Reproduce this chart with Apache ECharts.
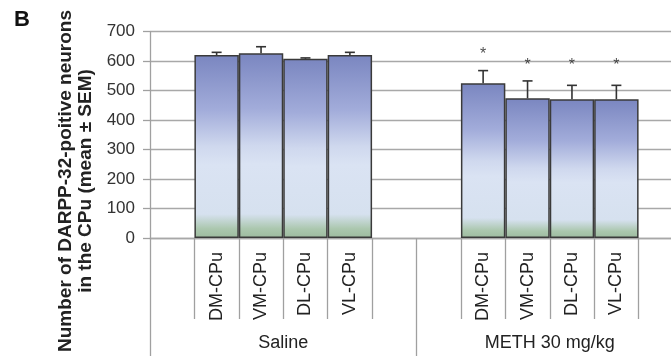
<!DOCTYPE html>
<html>
<head>
<meta charset="utf-8">
<script src="https://cdn.jsdelivr.net/npm/echarts@6/dist/echarts.min.js"></script>
<style>html,body{margin:0;padding:0;background:#fff}#c{width:671px;height:360px}</style>
</head>
<body>
<div id="c"></div>
<script>
const regions = ['DM-CPu', 'VM-CPu', 'DL-CPu', 'VL-CPu'];
const groups = ['Saline', 'METH 30 mg/kg'];
const salineMean = [621, 627, 608, 621];
const salineSem = [9, 22, 3, 9];
const methMean = [525, 474, 471, 471];
const methSem = [43, 59, 47, 47];
const methStarY = [624, 584, 584, 584];
const yTicks = [0, 100, 200, 300, 400, 500, 600, 700];
const yTitle = ['Number of DARPP-32-poitive neurons', 'in the CPu (mean \u00b1 SEM)'];
const panelLabel = 'B';

// slots: pad, 4 saline, pad, pad, 4 meth, pad
const cats = [];
const barData = [];
const errData = [];
const starData = [];
cats.push('pad0'); barData.push(null);
regions.forEach((r, i) => { cats.push('S|' + r); barData.push(salineMean[i]); errData.push([cats.length - 1, salineMean[i], salineSem[i]]); });
cats.push('pad1'); barData.push(null);
cats.push('pad2'); barData.push(null);
regions.forEach((r, i) => { cats.push('M|' + r); barData.push(methMean[i]); errData.push([cats.length - 1, methMean[i], methSem[i]]); starData.push([cats.length - 1, methStarY[i]]); });
cats.push('pad3'); barData.push(null);

const tickSlots = new Set();
cats.forEach((c, i) => { if (c.indexOf('|') >= 0) { tickSlots.add(i); tickSlots.add(i + 1); } });

const FONT = '"Liberation Sans", Arial, sans-serif';
const chart = echarts.init(document.getElementById('c'));
chart.setOption({
  animation: false,
  backgroundColor: '#ffffff',
  grid: { left: 150, width: 533, top: 31.7, height: 206.3, containLabel: false, outerBoundsMode: 'none' },
  xAxis: [{
    type: 'category',
    data: cats,
    boundaryGap: true,
    axisLine: { show: true, lineStyle: { color: '#a8a8a8', width: 1.3 } },
    axisTick: {
      show: true, length: 81, inside: false,
      interval: (idx) => tickSlots.has(idx),
      lineStyle: { color: '#a0a0a0', width: 1.3 }
    },
    axisLabel: {
      show: true, interval: 0, rotate: 90, margin: 14,
      fontFamily: FONT, fontSize: 18, color: '#222',
      formatter: (v) => v.indexOf('|') >= 0 ? v.split('|')[1] : ''
    },
    splitLine: { show: false }
  }, {
    type: 'category',
    data: groups,
    position: 'bottom',
    offset: 118,
    boundaryGap: true,
    axisLine: { show: false },
    axisTick: { show: true, inside: true, length: 118, lineStyle: { color: '#a0a0a0', width: 1.3 } },
    axisLabel: { show: true, inside: true, margin: 4, fontFamily: FONT, fontSize: 18, color: '#222' },
    splitLine: { show: false }
  }],
  yAxis: {
    type: 'value', min: yTicks[0], max: yTicks[yTicks.length - 1], interval: 100,
    axisLine: { show: true, lineStyle: { color: '#a0a0a0', width: 1.3 } },
    axisTick: { show: true, length: 7, lineStyle: { color: '#a0a0a0', width: 1.3 } },
    axisLabel: { margin: 15, fontFamily: FONT, fontSize: 17, color: '#333' },
    splitLine: { show: true, lineStyle: { color: '#a8a8a8', width: 1.3 } }
  },
  graphic: [{
    type: 'text', x: 76, y: 181, rotation: Math.PI / 2,
    style: {
      text: yTitle.join('\n'), fontFamily: FONT, fontWeight: 'bold', fontSize: 19, lineHeight: 20,
      fill: '#222', align: 'center', verticalAlign: 'middle'
    }
  }, {
    type: 'text', x: 14, y: 20,
    style: { text: panelLabel, fontFamily: FONT, fontWeight: 'bold', fontSize: 22, fill: '#111', align: 'left', verticalAlign: 'middle' }
  }],
  series: [{
    type: 'bar',
    xAxisIndex: 0,
    data: barData,
    barWidth: '100%',
    barCategoryGap: 0,
    itemStyle: {
      borderColor: '#3a3a3a', borderWidth: 1.5,
      color: {
        type: 'linear', x: 0, y: 0, x2: 0, y2: 1,
        colorStops: [
          { offset: 0, color: '#7a86c0' },
          { offset: 0.3, color: '#a2acda' },
          { offset: 0.5, color: '#cfd8ee' },
          { offset: 0.6, color: '#dae3f3' },
          { offset: 0.87, color: '#d6e1ef' },
          { offset: 0.95, color: '#abc7ae' },
          { offset: 1, color: '#9dbb9f' }
        ]
      }
    },
    z: 2
  }, {
    type: 'custom',
    xAxisIndex: 0,
    data: errData,
    renderItem: (params, api) => {
      const x = api.value(0), m = api.value(1), s = api.value(2);
      const p0 = api.coord([x, m]);
      const p1 = api.coord([x, m + s]);
      const hw = 5;
      const st = { stroke: '#333', lineWidth: 1.6 };
      return { type: 'group', children: [
        { type: 'line', shape: { x1: p0[0], y1: p0[1], x2: p1[0], y2: p1[1] }, style: st },
        { type: 'line', shape: { x1: p1[0] - hw, y1: p1[1], x2: p1[0] + hw, y2: p1[1] }, style: st }
      ] };
    },
    z: 3
  }, {
    type: 'scatter',
    xAxisIndex: 0,
    data: starData,
    symbolSize: 0,
    label: { show: true, position: 'inside', formatter: '*', fontFamily: FONT, fontSize: 16, color: '#222' },
    z: 4
  }]
});
</script>
</body>
</html>
